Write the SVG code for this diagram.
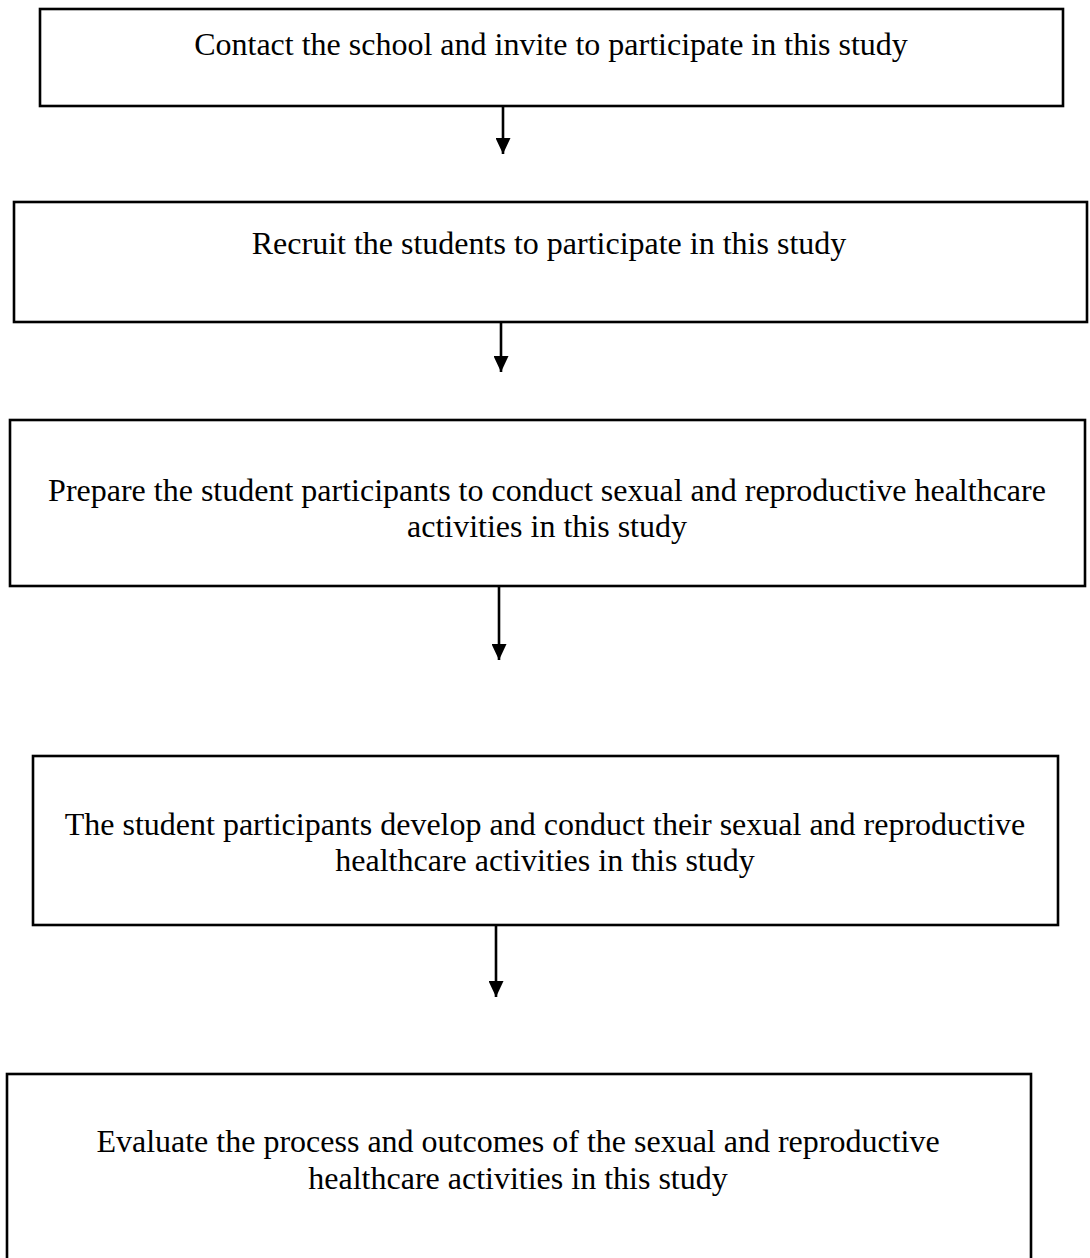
<svg xmlns="http://www.w3.org/2000/svg" width="1090" height="1258" viewBox="0 0 1090 1258">
<style>
.box{fill:#fff;stroke:#000;stroke-width:2.6}
.t{font-family:"Liberation Serif","Times New Roman",serif;font-size:32px;fill:#000;text-anchor:middle}
.c{stroke:#000;stroke-width:2.6;fill:none}
</style>
<defs>
<marker id="ah" viewBox="0 0 16 15" refX="16" refY="7.5" markerWidth="16" markerHeight="15" markerUnits="userSpaceOnUse" orient="auto">
<path d="M0,0 L16,7.5 L0,15 z" fill="#000"/>
</marker>
</defs>
<rect width="1090" height="1258" fill="#fff"/>
<g id="connectors">
<line class="c" x1="503" y1="106" x2="503" y2="154" marker-end="url(#ah)"/>
<line class="c" x1="501" y1="322" x2="501" y2="372" marker-end="url(#ah)"/>
<line class="c" x1="499" y1="586" x2="499" y2="660" marker-end="url(#ah)"/>
<line class="c" x1="496" y1="925" x2="496" y2="997" marker-end="url(#ah)"/>
</g>
<g id="n1">
<rect class="box" x="40" y="9" width="1023" height="97"/>
<text class="t" x="551" y="55">Contact the school and invite to participate in this study</text>
</g>
<g id="n2">
<rect class="box" x="14" y="202" width="1073" height="120"/>
<text class="t" x="549" y="254">Recruit the students to participate in this study</text>
</g>
<g id="n3">
<rect class="box" x="10" y="420" width="1075" height="166"/>
<text class="t" x="547" y="501">Prepare the student participants to conduct sexual and reproductive healthcare</text>
<text class="t" x="547" y="537">activities in this study</text>
</g>
<g id="n4">
<rect class="box" x="33" y="756" width="1025" height="169"/>
<text class="t" x="545" y="835">The student participants develop and conduct their sexual and reproductive</text>
<text class="t" x="545" y="871">healthcare activities in this study</text>
</g>
<g id="n5">
<rect class="box" x="7" y="1074" width="1024" height="220"/>
<text class="t" x="518" y="1152">Evaluate the process and outcomes of the sexual and reproductive</text>
<text class="t" x="518" y="1189">healthcare activities in this study</text>
</g>
</svg>
